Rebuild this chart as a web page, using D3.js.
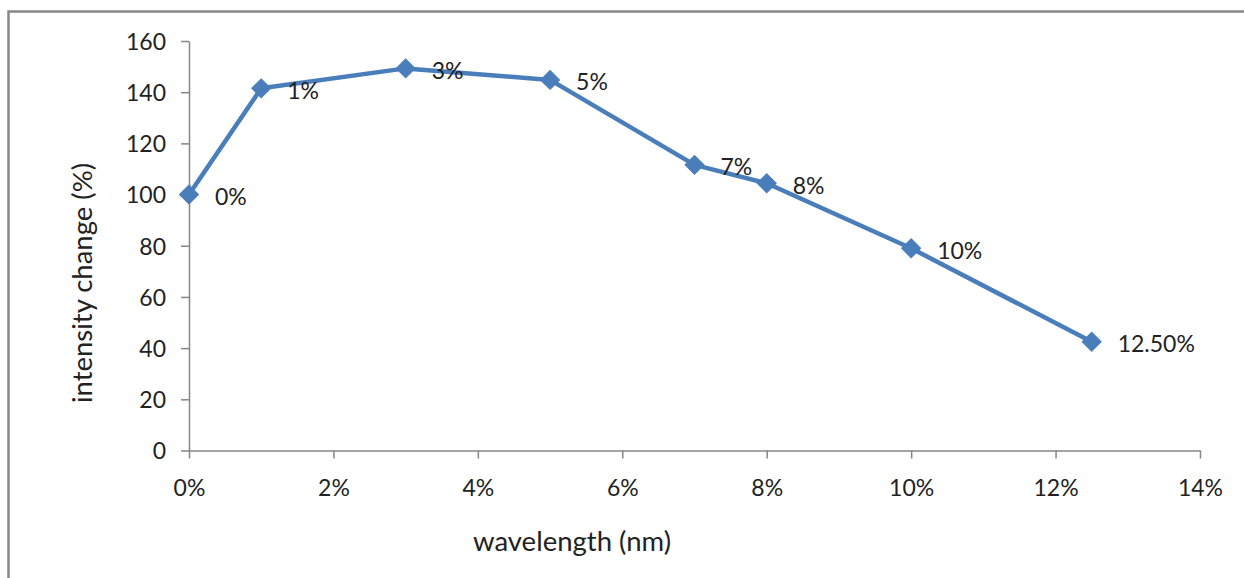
<!DOCTYPE html>
<html><head><meta charset="utf-8">
<script src="https://cdn.jsdelivr.net/npm/d3@7"></script>
<style>
html,body{margin:0;padding:0;background:#fff;}
svg{display:block;}
text{font-family:"Lato","Open Sans",sans-serif;fill:#222;}
</style></head>
<body>
<svg id="chart" width="1244" height="578"></svg>
<script>
const xValues = [0, 1, 3, 5, 7, 8, 10, 12.5];
const yValues = [100, 141.5, 149.3, 144.8, 111.6, 104.4, 79, 42.5];
const pointLabels = ["0%", "1%", "3%", "5%", "7%", "8%", "10%", "12.50%"];
const xTicks = [0, 2, 4, 6, 8, 10, 12, 14];
const yTicks = [0, 20, 40, 60, 80, 100, 120, 140, 160];
const xTitle = "wavelength (nm)";
const yTitle = "intensity change (%)";

const svg = d3.select("#chart");
const fontSize = 23;
const titleSize = 27.5;
const fontFamily = '"Lato","Open Sans",sans-serif';

// outer frame
svg.append("rect").attr("x", 8.5).attr("y", 11.5).attr("width", 1300).attr("height", 700)
  .attr("fill", "#fff").attr("stroke", "#888").attr("stroke-width", 2.5);

const x = d3.scaleLinear().domain([0, 14]).range([189, 1200]);
const y = d3.scaleLinear().domain([0, 160]).range([450.5, 41]);
const axisColor = "#868686";

const xAxis = svg.append("g").attr("transform", `translate(0,${y(0)})`)
  .call(d3.axisBottom(x).tickValues(xTicks).tickFormat(d => d + "%").tickSize(8).tickSizeOuter(0));
const yAxis = svg.append("g").attr("transform", `translate(${x(0)},0)`)
  .call(d3.axisLeft(y).tickValues(yTicks).tickSize(8).tickSizeOuter(0));

[xAxis, yAxis].forEach(g => {
  g.select(".domain").attr("stroke", axisColor).attr("stroke-width", 1.5);
  g.selectAll(".tick line").attr("stroke", axisColor).attr("stroke-width", 1.5);
  g.selectAll(".tick text").attr("font-size", fontSize).attr("fill", "#222")
    .attr("font-family", fontFamily);
});
xAxis.selectAll(".tick text").attr("dy", "0").attr("y", 45);
yAxis.selectAll(".tick text").attr("x", -23).attr("dy", "0.36em");

const pts = xValues.map((v, i) => ({x: v, y: yValues[i], label: pointLabels[i]}));
const color = "#4a7ebb";

svg.append("path").datum(pts)
  .attr("d", d3.line().x(d => x(d.x)).y(d => y(d.y)))
  .attr("fill", "none").attr("stroke", color).attr("stroke-width", 4.5).attr("stroke-linejoin", "round");

const diamond = d3.symbol().type(d3.symbolSquare).size(180);
svg.selectAll(".mk").data(pts).join("path")
  .attr("d", diamond())
  .attr("transform", d => `translate(${x(d.x)},${y(d.y)}) rotate(45)`)
  .attr("fill", color).attr("stroke", color).attr("stroke-width", 1);

svg.selectAll(".lbl").data(pts).join("text")
  .attr("x", d => x(d.x) + 26).attr("y", d => y(d.y) + 2)
  .attr("dy", "0.36em").attr("font-size", fontSize)
  .text(d => d.label);

svg.append("text").attr("x", 572).attr("y", 541).attr("dy", "0.36em")
  .attr("text-anchor", "middle").attr("font-size", titleSize).text(xTitle);
svg.append("text").attr("transform", "translate(82,283) rotate(-90)").attr("dy", "0.36em")
  .attr("text-anchor", "middle").attr("font-size", titleSize).text(yTitle);
</script>
</body></html>
